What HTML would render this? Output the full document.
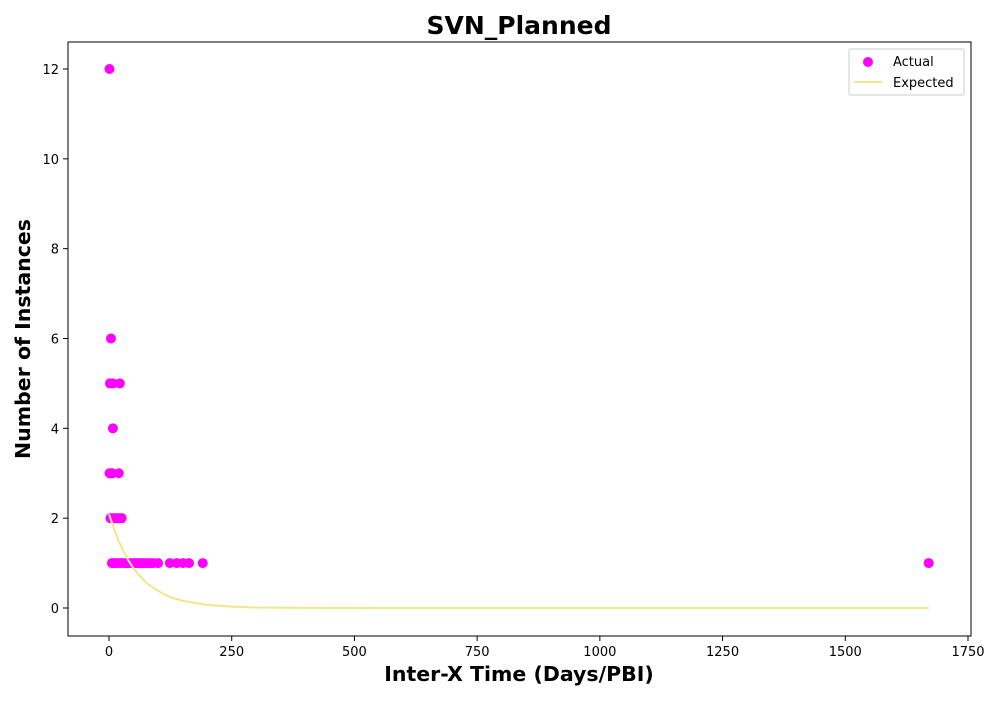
<!DOCTYPE html>
<html><head><meta charset="utf-8"><style>
body{margin:0;background:#fff;font-family:"DejaVu Sans","Liberation Sans",sans-serif}
svg text{font-family:"DejaVu Sans","Liberation Sans",sans-serif}
</style></head><body>
<svg id="chart" width="1000" height="700" xmlns="http://www.w3.org/2000/svg">
<rect width="1000" height="700" fill="#fff"/>
<text x="519" y="34" text-anchor="middle" font-size="25" font-weight="bold">SVN_Planned</text>
<g id="plot"></g>
<text x="519" y="681" text-anchor="middle" font-size="20.5" font-weight="bold">Inter-X Time (Days/PBI)</text>
<text transform="translate(30,339) rotate(-90)" text-anchor="middle" font-size="20.5" font-weight="bold">Number of Instances</text>
<g>
<rect x="849" y="49" width="115" height="46" fill="#fff" stroke="#ccc" rx="2"/>
<circle cx="868" cy="62" r="5" fill="#ff00ff"/>
<text x="893" y="66" font-size="13">Actual</text>
<line x1="854" y1="82" x2="882" y2="82" stroke="#f0e68c" stroke-width="2"/>
<text x="893" y="87" font-size="13">Expected</text>
</g>
</svg>
<script>
const actualX=[1,4,2,8,22,8,1,4,7,20,3,8,12,17,22,26,6,10,14,18,25,30,35,40,45,50,55,60,65,70,75,80,85,90,100,124,138,151,163,191,1670];
const actualY=[12,6,5,5,5,4,3,3,3,3,2,2,2,2,2,2,1,1,1,1,1,1,1,1,1,1,1,1,1,1,1,1,1,1,1,1,1,1,1,1,1];
const expX=[0,10,20,30,40,50,60,75,100,125,150,200,250,300,400,600,1000,1670];
const expY=[2.09,1.77,1.48,1.25,1.05,0.88,0.75,0.57,0.38,0.24,0.16,0.07,0.03,0.01,0.004,0,0,0];
const xTicks=[0,250,500,750,1000,1250,1500,1750];
const yTicks=[0,2,4,6,8,10,12];
const L=68,R=971,T=42,B=636;
const sx=v=>109+v*(968-109)/1750;
const sy=v=>608-v*(608-69)/12;
const NS="http://www.w3.org/2000/svg";
const g=document.getElementById('plot');
function mk(t,a){const e=document.createElementNS(NS,t);for(const k in a)e.setAttribute(k,a[k]);g.appendChild(e);return e;}
const pts=expX.map((x,i)=>sx(x)+','+sy(expY[i])).join(' ');
actualX.forEach((x,i)=>{const c=mk('circle',{cx:sx(x),cy:sy(actualY[i]),r:5,fill:'#ff00ff'});

});
const pl=mk('polyline',{points:pts,fill:'none',stroke:'#f0e68c','stroke-width':2});


const fr=mk('rect',{x:L,y:T,width:R-L,height:B-T,fill:'none',stroke:'#000','stroke-width':1});


xTicks.forEach(v=>{mk('line',{x1:sx(v),x2:sx(v),y1:B,y2:B+5,stroke:'#000'});
const t=mk('text',{x:sx(v),y:B+20,'text-anchor':'middle','font-size':13});t.textContent=v;

});
yTicks.forEach(v=>{mk('line',{x1:L-5,x2:L,y1:sy(v),y2:sy(v),stroke:'#000'});
const t=mk('text',{x:L-9,y:sy(v)+5,'text-anchor':'end','font-size':13});t.textContent=v;

});
</script>
</body></html>
